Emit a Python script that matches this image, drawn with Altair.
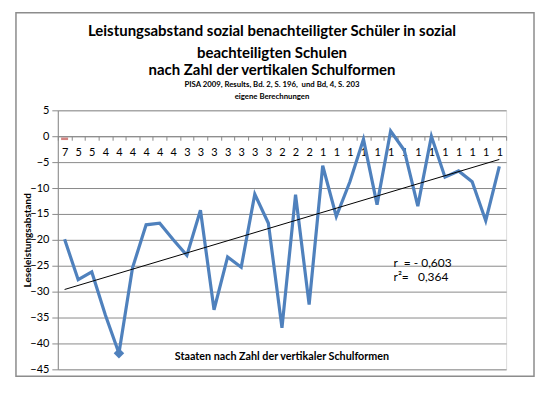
import altair as alt
import pandas as pd

labels = ["7", "5", "5", "4", "4", "4", "4", "4", "4", "3", "3", "3", "3", "3", "3", "3",
          "2", "2", "2", "1", "1", "1", "1", "1", "1", "1", "1", "1", "1", "1", "1", "1", "1"]
values = [-19.9, -27.7, -26.2, -34.5, -41.9, -25.4, -17.1, -16.8, -20.0, -23.0,
          -14.3, -33.5, -23.3, -25.3, -11.2, -16.8, -37.0, -11.3, -32.5, -5.7,
          -15.5, -8.8, -0.6, -13.2, 1.0, -2.7, -13.5, 0.0, -7.9, -6.7,
          -8.8, -16.3, -5.8]
marker_idx = [4]
red_idx = [0]
red_val = [-0.5]
stats = ["r\u00a0 = - 0,603", "r²=\u00a0\u00a0 0,364"]
stats_y = [-24.4, -27.1]
title_lines = ["Leistungsabstand sozial benachteiligter Schüler in sozial",
               "beachteiligten Schulen",
               "nach Zahl der vertikalen Schulformen"]
subtitle_lines = ["PISA 2009, Results, Bd. 2, S. 196,\u00a0 und Bd, 4, S. 203",
                  "eigene Berechnungen"]
x_title = "Staaten nach Zahl der vertikaler Schulformen"

df = pd.DataFrame({"idx": list(range(len(values))), "val": values})
df_marker = df[df["idx"].isin(marker_idx)]
df_red = pd.DataFrame({"idx": red_idx, "val": red_val})
df_stats = pd.DataFrame({"t": stats, "y": stats_y})

W, H = 450, 260
FONT = "Lato"
GRID = "#8a8a8a"

label_expr = "[" + ",".join("'%s'" % l for l in labels) + "][datum.value]"

xscale = alt.Scale(type="band", paddingInner=0, paddingOuter=0)
yscale = alt.Scale(domain=[-45, 5], nice=False)

x_enc = alt.X("idx:O", scale=xscale, bandPosition=0.5,
              axis=alt.Axis(title=None, labelExpr=label_expr, labelAngle=0,
                            orient="bottom", offset=-(H - 26), tickBand="extent",
                            tickSize=4, tickColor=GRID, domainColor=GRID,
                            labelFontSize=11, labelColor="#000000", labelFont=FONT,
                            labelPadding=6, grid=False, labelOverlap=False))
y_axis = alt.Axis(title="Leseleistungsabstand", values=list(range(-45, 10, 5)),
                  grid=True, gridColor=GRID, gridWidth=1,
                  tickColor=GRID, tickSize=6, domainColor=GRID,
                  labelFontSize=11, labelFont=FONT, labelColor="#000000",
                  labelOverlap=False, labelFlush=False, labelSeparation=0,
                  labelPadding=3, titleFontSize=10, titleFont=FONT,
                  titleFontWeight="bold", titleColor="#000000",
                  titleX=-25, titleY=H / 2)
y_enc = alt.Y("val:Q", scale=yscale, axis=y_axis)

frame = alt.Chart(pd.DataFrame({"a": [0]})).mark_rect(
    fill=None, stroke="#8c8c8c", strokeWidth=1.5, clip=False
).encode(x=alt.value(-42), x2=alt.value(478), y=alt.value(-98), y2=alt.value(267))

line = alt.Chart(df).mark_line(color="#4F81BD", strokeWidth=3.2).encode(x=x_enc, y=y_enc)

trend = alt.Chart(df).transform_regression("idx", "val").mark_line(
    color="#000000", strokeWidth=1
).encode(x=alt.X("idx:O", scale=xscale, bandPosition=0.5),
         y=alt.Y("val:Q", scale=yscale, axis=y_axis))

marker = alt.Chart(df_marker).mark_point(
    shape="diamond", filled=True, size=110, color="#4F81BD", opacity=1
).encode(x=alt.X("idx:O", scale=xscale, bandPosition=0.5),
         y=alt.Y("val:Q", scale=yscale, axis=y_axis))

red = alt.Chart(df_red).mark_tick(
    color="#C0504D", thickness=2.5, size=7, orient="horizontal"
).encode(x=alt.X("idx:O", scale=xscale, bandPosition=0.5),
         y=alt.Y("val:Q", scale=yscale, axis=y_axis))

stat_text = alt.Chart(df_stats).mark_text(
    align="left", baseline="middle", fontSize=12, font=FONT, color="#000000"
).encode(x=alt.value(337), y=alt.Y("y:Q", scale=yscale, axis=y_axis), text="t:N")

xtitle = alt.Chart(pd.DataFrame({"t": [x_title], "y": [-42.6]})).mark_text(
    align="center", baseline="middle", fontSize=10.8, font=FONT, fontWeight="bold", color="#000000"
).encode(x=alt.value(W / 2), y=alt.Y("y:Q", scale=yscale, axis=y_axis), text="t:N")

# title block (layout text, positioned in pixels above the plot area)
title_specs = [(title_lines[0], 15, -80), (title_lines[1], 15, -58), (title_lines[2], 15, -40),
               (subtitle_lines[0], 7.8, -25), (subtitle_lines[1], 7.8, -13)]
title_layers = []
for txt, fs, yy in title_specs:
    title_layers.append(
        alt.Chart(pd.DataFrame({"t": [txt]})).mark_text(
            align="center", baseline="middle", fontSize=fs, font=FONT,
            fontWeight="bold", color="#000000"
        ).encode(x=alt.value(215), y=alt.value(yy), text="t:N")
    )

chart = alt.layer(frame, line, trend, marker, red, stat_text, xtitle, *title_layers).properties(
    width=W, height=H,
    autosize=alt.AutoSizeParams(type="none"),
    padding={"left": 50, "top": 102, "right": 30, "bottom": 10},
).configure_view(stroke=None).configure_axis(labelOverlap=False).configure(background="white")

chart.save("out.html", embed_options={"renderer": "svg", "actions": False})
